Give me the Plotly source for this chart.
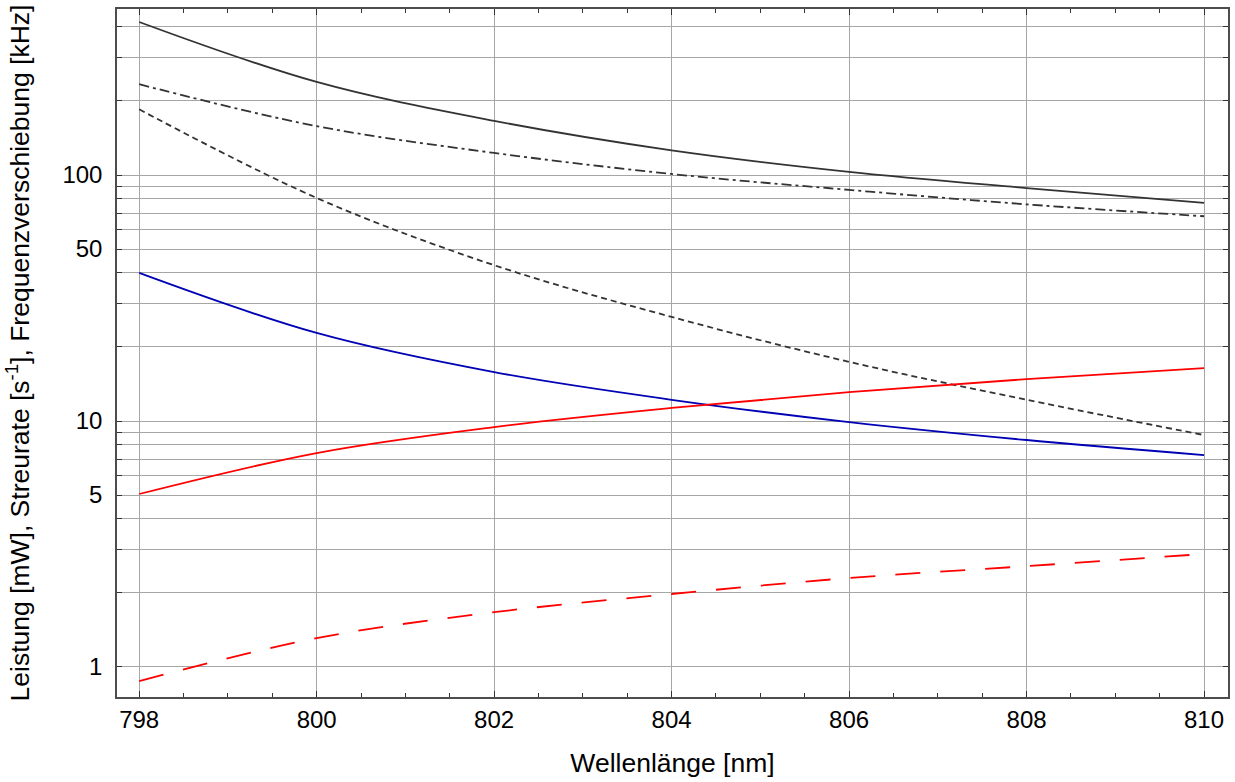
import plotly.graph_objects as go

# Wavelength grid [nm]
wavelength = [798, 800, 802, 804, 806, 808, 810]

# Frequency shifts [kHz] and scattering rate [1/s], power [mW]
shift_total = [419, 239, 166, 126, 103, 88.5, 77]
shift_dashdot = [234, 158, 123, 101, 87, 76, 68]
shift_dashed = [185, 80.7, 43, 26.5, 17.4, 12.2, 8.77]
scatter_rate = [40, 22.8, 15.8, 12.2, 9.9, 8.37, 7.27]
power_solid = [5.05, 7.41, 9.45, 11.3, 13.1, 14.8, 16.4]
power_dashed = [0.877, 1.31, 1.67, 1.98, 2.30, 2.57, 2.88]

# Log-axis gridlines and the labelled subset
labelled_vals = [1, 5, 10, 50, 100]
grid_vals = [d * 10 ** k for k in range(0, 3) for d in range(1, 10) if d * 10 ** k <= 400]
minor_vals = [v for v in grid_vals if v not in labelled_vals]

series = [
    (shift_total, "#333333", "solid"),
    (shift_dashdot, "#333333", "10px,4px,3px,4px"),
    (shift_dashed, "#333333", "6px,4px"),
    (scatter_rate, "#0000b4", "solid"),
    (power_solid, "#ff0000", "solid"),
    (power_dashed, "#ff0000", "25px,20px"),
]

fig = go.Figure()
for ys, color, dash in series:
    fig.add_trace(go.Scatter(
        x=wavelength, y=ys, mode="lines", line_shape="spline",
        line=dict(color=color, width=1.8, dash=dash), showlegend=False,
    ))

font = "Liberation Sans, Arial, sans-serif"
fig.update_layout(
    width=1235, height=782,
    margin=dict(l=117, r=5, t=9, b=85),
    paper_bgcolor="white", plot_bgcolor="white",
    font=dict(family=font, size=24, color="black"),
)
fig.update_xaxes(
    range=[797.75, 810.27], tick0=798, dtick=2,
    ticks="inside", ticklen=6, tickcolor="#333333",
    showgrid=True, gridcolor="#a6a6a6", gridwidth=1,
    showline=True, linecolor="#4d4d4d", linewidth=1.5, mirror="ticks",
    minor=dict(dtick=0.5, ticks="inside", ticklen=4, tickcolor="#333333", showgrid=False),
    zeroline=False,
    title=dict(text="Wellenlänge [nm]", standoff=22, font=dict(size=26.5)),
)
fig.update_yaxes(
    type="log", range=[-0.122, 2.675],
    tickmode="array", tickvals=labelled_vals,
    ticktext=[str(v) for v in labelled_vals],
    ticks="inside", ticklen=5, tickcolor="#333333",
    showgrid=True, gridcolor="#a6a6a6", gridwidth=1,
    showline=True, linecolor="#4d4d4d", linewidth=1.5, mirror="ticks",
    minor=dict(tickmode="array", tickvals=minor_vals, ticks="inside", ticklen=5,
               tickcolor="#333333", showgrid=True, gridcolor="#a6a6a6", gridwidth=1),
    ticklabelstandoff=8,
    zeroline=False,
    title=dict(text="Leistung [mW], Streurate [s<sup>-1</sup>], Frequenzverschiebung [kHz]",
               standoff=25, font=dict(size=26.5)),
)
fig.write_html("out.html")
